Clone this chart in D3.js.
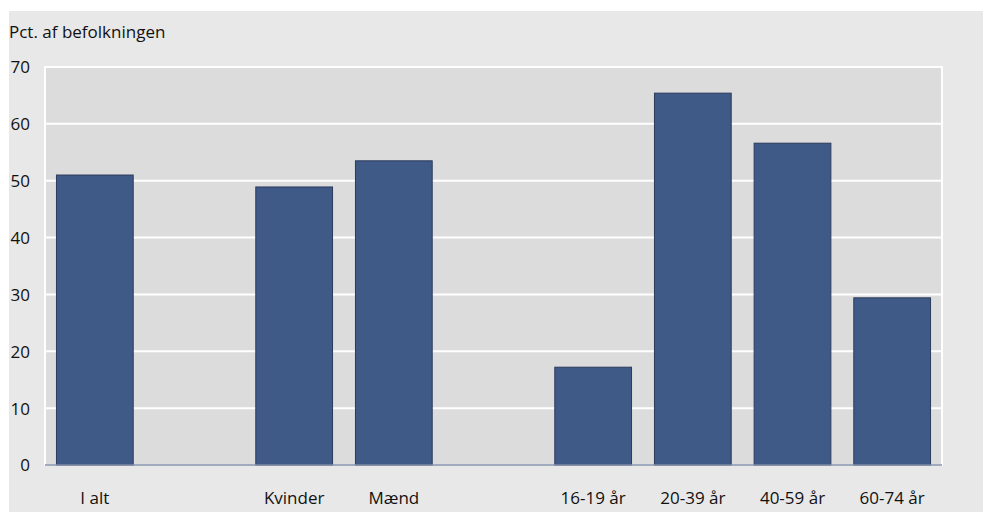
<!DOCTYPE html>
<html>
<head>
<meta charset="utf-8">
<script src="https://cdn.jsdelivr.net/npm/d3@7"></script>
<style>
html,body{margin:0;padding:0;background:#fff;}
svg{display:block;}
text{font-family:"Open Sans",sans-serif;fill:#111;}
</style>
</head>
<body>
<svg id="chart" width="983" height="512"></svg>
<script>
const categories = ["I alt", "", "Kvinder", "Mænd", " ", "16-19 år", "20-39 år", "40-59 år", "60-74 år"];
const values = [51.0, null, 48.9, 53.5, null, 17.2, 65.4, 56.6, 29.4];
const yTicks = [0, 10, 20, 30, 40, 50, 60, 70];
const yTitle = "Pct. af befolkningen";

const svg = d3.select("#chart");
const W = 983, H = 512;
const m = {left: 45, right: 41, top: 67, bottom: 47};
const pw = W - m.left - m.right, ph = H - m.top - m.bottom;
const fs = 17;

svg.append("rect").attr("x", 9).attr("y", 11).attr("width", W - 9).attr("height", H - 11).attr("fill", "#e8e8e8");

const x = d3.scaleBand().domain(categories).range([m.left, m.left + pw]).paddingInner(0.23).paddingOuter(0.115);
const y = d3.scaleLinear().domain([0, 70]).range([m.top + ph, m.top]);

svg.append("rect").attr("x", m.left).attr("y", m.top).attr("width", pw).attr("height", ph)
  .attr("fill", "#dcdcdc").attr("stroke", "#fff").attr("stroke-width", 2);

// gridlines
svg.append("g").selectAll("line").data(yTicks.filter(d => d > 0)).join("line")
  .attr("x1", m.left).attr("x2", m.left + pw)
  .attr("y1", d => y(d)).attr("y2", d => y(d))
  .attr("stroke", "#fff").attr("stroke-width", 2);

// bars
svg.append("g").selectAll("rect").data(categories.map((c, i) => ({c, v: values[i]})).filter(d => d.v != null)).join("rect")
  .attr("x", d => x(d.c)).attr("width", x.bandwidth())
  .attr("y", d => y(d.v)).attr("height", d => y(0) - y(d.v))
  .attr("fill", "#405a87").attr("stroke", "#2b3b5c").attr("stroke-width", 1);

// baseline
svg.append("line").attr("x1", m.left).attr("x2", m.left + pw).attr("y1", y(0)).attr("y2", y(0))
  .attr("stroke", "#7f8ea8").attr("stroke-width", 1.5);

// y axis labels
const yAxis = d3.axisLeft(y).tickValues(yTicks).tickSize(0).tickPadding(0);
const yg = svg.append("g").attr("transform", `translate(${m.left - 15},0)`).call(yAxis);
yg.select(".domain").remove();
yg.selectAll("text").attr("font-size", fs).attr("font-family", "Open Sans").attr("fill", "#111").attr("dy", "0.35em");

// x axis labels
const xAxis = d3.axisBottom(x).tickSize(0).tickPadding(0);
const xg = svg.append("g").attr("transform", `translate(0,${y(0) + 27})`).call(xAxis);
xg.select(".domain").remove();
xg.selectAll("text").attr("font-size", fs).attr("font-family", "Open Sans").attr("fill", "#111").attr("dy", "0.7em");

svg.append("text").attr("x", 9).attr("y", 38).attr("font-size", fs).text(yTitle);
</script>
</body>
</html>
